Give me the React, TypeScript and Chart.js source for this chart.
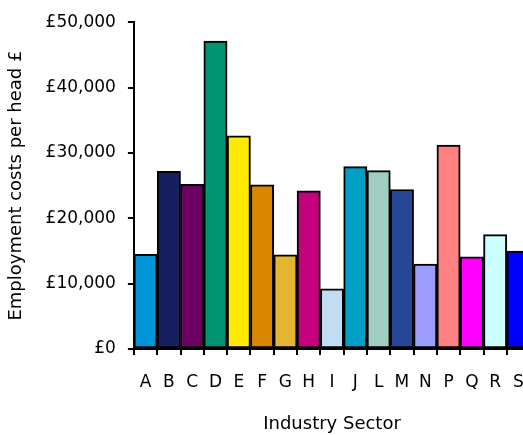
import React, { useEffect, useRef } from "react";
import { Chart, registerables } from "chart.js";

Chart.register(...registerables);

const categories = ["A", "B", "C", "D", "E", "F", "G", "H", "I", "J", "L", "M", "N", "P", "Q", "R", "S"];
const costs = [14500, 27200, 25200, 47100, 32600, 25100, 14400, 24200, 9200, 27900, 27300, 24400, 13000, 31200, 14100, 17500, 15000];
const barColors = [
  "#0095D9", "#161F60", "#6E0064", "#009472", "#FFEA00", "#D98700",
  "#E6B532", "#C4007C", "#C2DDF3", "#00A0C6", "#A2CDC2", "#274898",
  "#9E9EFF", "#FF8080", "#FF00FF", "#CCFFFF", "#0000FF",
];
const yTicks = [0, 10000, 20000, 30000, 40000, 50000];
const yTitle = "Employment costs per head £";
const xTitle = "Industry Sector";

const FONT = "'DejaVu Sans', sans-serif";

export default function App() {
  const ref = useRef<HTMLCanvasElement | null>(null);
  useEffect(() => {
    if (!ref.current) return;
    const chart = new Chart(ref.current, {
      type: "bar",
      data: {
        labels: categories,
        datasets: [
          {
            data: costs,
            backgroundColor: barColors,
            borderColor: "#000",
            borderWidth: 2,
            borderSkipped: false,
            categoryPercentage: 1,
            barPercentage: 1,
          },
        ],
      },
      options: {
        responsive: false,
        animation: false,
        layout: { padding: { top: 7, right: 4, left: 6, bottom: 0 } },
        plugins: { legend: { display: false }, tooltip: { enabled: false } },
        scales: {
          x: {
            grid: { display: true, drawOnChartArea: false, drawTicks: true, tickLength: 6, color: "#000", lineWidth: 2, offset: true },
            border: { display: true, color: "#000", width: 2 },
            ticks: { color: "#000", font: { family: FONT, size: 17 }, padding: 17, maxRotation: 0, autoSkip: false },
            title: { display: true, text: xTitle, color: "#000", font: { family: FONT, size: 18 }, padding: { top: 4, bottom: 0 } },
          },
          y: {
            min: 0,
            max: 50000,
            afterBuildTicks: (axis: any) => {
              axis.ticks = yTicks.map((v) => ({ value: v }));
            },
            grid: { display: true, drawOnChartArea: false, drawTicks: true, tickLength: 6, color: "#000", lineWidth: 2 },
            border: { display: true, color: "#000", width: 2 },
            ticks: {
              color: "#000",
              font: { family: FONT, size: 17 },
              padding: 12,
              callback: (v: any) => "£" + Number(v).toLocaleString("en-GB"),
            },
            title: { display: true, text: yTitle, color: "#000", font: { family: FONT, size: 18 }, padding: { top: 0, bottom: 6 } },
          },
        },
      },
    });
    return () => chart.destroy();
  }, []);
  return (
    <div style={{ position: "fixed", left: 0, top: 0, width: 523, height: 435, overflow: "hidden", background: "#fff" }}>
      <canvas ref={ref} width={541} height={435} style={{ display: "block" }} />
    </div>
  );
}
